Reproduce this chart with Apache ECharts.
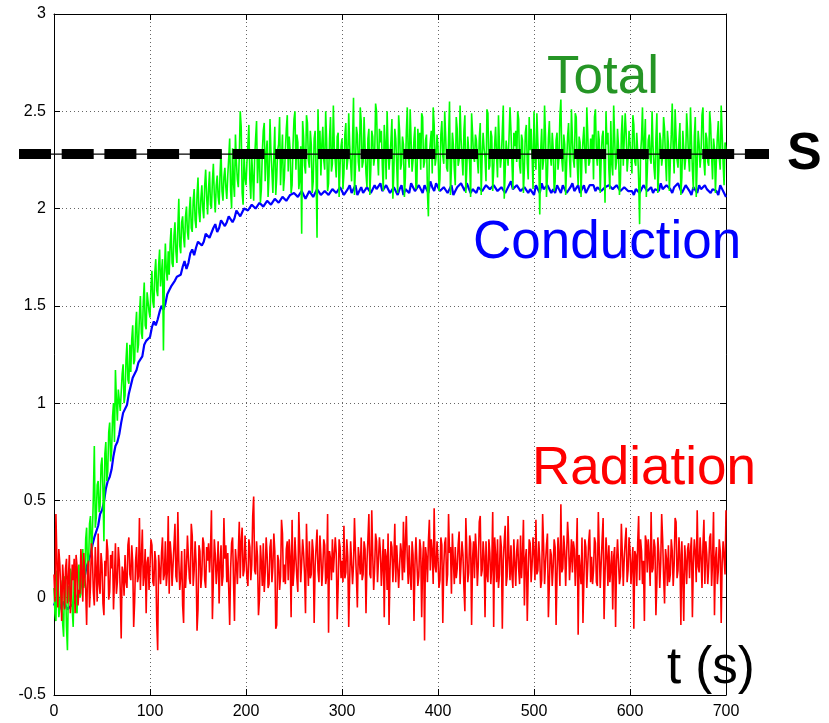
<!DOCTYPE html>
<html><head><meta charset="utf-8">
<script src="https://cdn.jsdelivr.net/npm/echarts/dist/echarts.min.js"></script>
<style>html,body{margin:0;padding:0;background:#fff}#c{width:829px;height:723px}</style>
</head><body><div id="c"></div>
<script>
// sampling interval (s) of the traces; "B" arrays are the samples half a step later
const sampleStep = 2;
const conductionStep = 4;
const xRange = [0, 700];
const xInterval = 100;
const yRange = [-0.5, 3];
const yInterval = 0.5;
const sLevel = 2.28;
const labels = { total: 'Total', conduction: 'Conduction', radiation: 'Radiation', time: 't (s)', s: 'S' };

// Conduction (blue): t = 0, 4, 8, ...
const conduction = [
-0.04, 0.01, -0.06, -0.02, -0.07, -0.03, -0.01, 0.06, 0.11, 0.19,
0.27, 0.32, 0.43, 0.49, 0.6, 0.66, 0.78, 0.84, 0.95, 0.99,
1.09, 1.12, 1.21, 1.24, 1.32, 1.34, 1.42, 1.43, 1.5, 1.51,
1.58, 1.59, 1.65, 1.66, 1.73, 1.72, 1.79, 1.8, 1.84, 1.83,
1.88, 1.86, 1.92, 1.9, 1.95, 1.93, 1.97, 1.95, 2.0, 1.97,
2.01, 1.98, 2.03, 2.0, 2.04, 2.01, 2.05, 2.02, 2.06, 2.03,
2.07, 2.03, 2.06, 2.09, 2.05, 2.08, 2.06, 2.1, 2.07, 2.09,
2.06, 2.1, 2.08, 2.11, 2.07, 2.1, 2.08, 2.12, 2.09, 2.07,
2.11, 2.08, 2.12, 2.09, 2.1, 2.13, 2.08, 2.11, 2.09, 2.12,
2.1, 2.07, 2.11, 2.13, 2.09, 2.12, 2.08, 2.1, 2.14, 2.09,
2.11, 2.08, 2.12, 2.1, 2.07, 2.11, 2.13, 2.09, 2.12, 2.1,
2.08, 2.12, 2.1, 2.13, 2.09, 2.11, 2.08, 2.12, 2.1, 2.14,
2.09, 2.11, 2.08, 2.12, 2.1, 2.07, 2.11, 2.13, 2.09, 2.11,
2.1, 2.12, 2.08, 2.11, 2.09, 2.13, 2.1, 2.08, 2.12, 2.1,
2.11, 2.09, 2.12, 2.08, 2.1, 2.13, 2.09, 2.11, 2.08, 2.12,
2.1, 2.07, 2.11, 2.09, 2.12, 2.1, 2.08, 2.11, 2.13, 2.09,
2.11, 2.08, 2.1, 2.12, 2.09, 2.11, 2.07, 2.1, 2.12, 2.09,
2.1, 2.08, 2.11, 2.07, 2.1, 2.06
];
// Conduction (blue): t = 2, 6, 10, ...
const conductionB = [
-0.01, -0.03, -0.02, -0.06, -0.04, -0.02, 0.03, 0.08, 0.16, 0.22,
0.31, 0.37, 0.45, 0.56, 0.62, 0.73, 0.8, 0.9, 0.96, 1.05,
1.13, 1.17, 1.2, 1.3, 1.31, 1.39, 1.4, 1.47, 1.48, 1.56,
1.6, 1.63, 1.64, 1.7, 1.69, 1.77, 1.76, 1.83, 1.81, 1.87,
1.85, 1.9, 1.88, 1.94, 1.91, 1.96, 1.93, 1.99, 1.96, 2.0,
1.99, 2.02, 2.0, 2.03, 2.01, 2.04, 2.02, 2.05, 2.03, 2.06,
2.04, 2.07, 2.08, 2.06, 2.09, 2.05, 2.09, 2.06, 2.1, 2.07,
2.09, 2.07, 2.1, 2.08, 2.11, 2.07, 2.1, 2.08, 2.12, 2.09,
2.08, 2.11, 2.08, 2.12, 2.11, 2.09, 2.12, 2.08, 2.11, 2.07,
2.12, 2.1, 2.08, 2.11, 2.1, 2.1, 2.12, 2.08, 2.11, 2.13,
2.09, 2.11, 2.08, 2.12, 2.09, 2.1, 2.11, 2.13, 2.08, 2.11,
2.11, 2.09, 2.12, 2.1, 2.12, 2.09, 2.11, 2.08, 2.12, 2.1,
2.12, 2.09, 2.11, 2.08, 2.09, 2.12, 2.08, 2.1, 2.12, 2.08,
2.08, 2.1, 2.12, 2.08, 2.11, 2.09, 2.12, 2.1, 2.08, 2.12,
2.12, 2.11, 2.09, 2.11, 2.12, 2.1, 2.12, 2.09, 2.11, 2.09,
2.09, 2.1, 2.08, 2.12, 2.09, 2.11, 2.1, 2.09, 2.1, 2.12,
2.1, 2.11, 2.13, 2.08, 2.12, 2.09, 2.11, 2.08, 2.1, 2.12,
2.11, 2.1, 2.09, 2.12, 2.08
];

// Total (green): t = 0, 2, 4, ...
const total = [
0.05, -0.12, 0.1, -0.06, 0.02, -0.2, 0.08, -0.27, -0.02, 0.12,
-0.15, 0.09, -0.08, 0.17, 0.02, 0.25, 0.08, 0.36, 0.17, 0.42,
0.33, 0.78, 0.41, 0.6, 0.47, 0.72, 0.29, 0.8, 0.65, 0.9,
0.75, 1.0, 1.17, 0.91, 1.08, 0.95, 1.2, 1.04, 1.31, 1.1,
1.16, 1.4, 1.22, 1.47, 1.3, 1.55, 1.33, 1.62, 1.38, 1.58,
1.44, 1.68, 1.49, 1.74, 1.55, 1.79, 1.61, 1.27, 1.82, 1.63,
1.66, 1.9, 1.7, 1.93, 1.72, 2.05, 1.77, 1.96, 1.8, 2.01,
1.84, 2.06, 1.88, 2.1, 1.9, 2.16, 1.93, 2.12, 1.95, 2.2,
1.97, 2.19, 2.0, 2.23, 1.98, 2.17, 2.02, 2.3, 2.04, 2.21,
2.05, 2.26, 2.09, 2.31, 2.06, 2.24, 2.11, 2.5, 2.08, 2.28,
2.12, 2.33, 2.15, 2.27, 2.04, 2.36, 2.13, 2.3, 2.1, 2.4,
2.14, 2.35, 2.17, 2.29, 2.08, 2.42, 2.16, 2.33, 2.12, 2.38,
2.16, 2.41, 2.19, 2.3, 2.12, 2.46, 2.2, 2.34, 2.15, 1.87,
2.37, 2.18, 2.44, 2.21, 2.33, 2.14, 2.4, 1.85, 2.29, 2.17,
2.42, 2.2, 2.35, 2.13, 2.47, 2.23, 2.31, 2.16, 2.39, 2.22,
2.36, 2.18, 2.44, 2.25, 2.33, 2.14, 2.57, 2.21, 2.38, 2.19,
2.45, 2.24, 2.32, 2.11, 2.41, 2.2, 2.37, 2.26, 2.5, 2.17,
2.34, 2.22, 2.43, 2.15, 2.31, 2.27, 2.46, 2.19, 2.36, 2.08,
2.4, 2.23, 2.33, 2.16, 2.52, 2.21, 2.35, 2.25, 2.42, 2.13,
2.3, 2.2, 2.47, 2.24, 2.38, 1.96, 2.34, 2.18, 2.43, 2.26,
2.32, 2.15, 2.45, 2.23, 2.37, 2.19, 2.55, 2.22, 2.33, 2.12,
2.41, 2.25, 2.36, 2.17, 2.48, 2.21, 2.3, 2.06, 2.39, 2.24,
2.35, 2.18, 2.44, 2.27, 2.31, 2.14, 2.49, 2.22, 2.37, 2.2,
2.42, 2.16, 2.33, 2.26, 2.53, 2.19, 2.36, 2.23, 2.4, 2.1,
2.32, 2.24, 2.46, 2.18, 2.35, 2.21, 2.43, 2.15, 2.3, 2.27,
2.5, 2.2, 2.34, 1.97, 2.41, 2.25, 2.37, 2.17, 2.45, 2.22,
2.31, 2.14, 2.39, 2.26, 2.56, 2.19, 2.33, 2.23, 2.44, 2.16,
2.36, 2.21, 2.47, 2.12, 2.34, 2.27, 2.42, 2.18, 2.38, 2.24,
2.3, 2.15, 2.51, 2.22, 2.35, 2.26, 2.4, 2.03, 2.33, 2.2,
2.45, 2.17, 2.37, 2.24, 2.32, 2.13, 2.48, 2.21, 2.39, 2.26,
2.34, 2.18, 2.43, 2.22, 2.3, 1.92, 2.36, 2.25, 2.46, 2.19,
2.38, 2.23, 2.32, 2.15, 2.49, 2.2, 2.35, 2.27, 2.41, 2.14,
2.33, 2.24, 2.54, 2.18, 2.37, 2.21, 2.44, 2.16, 2.31, 2.26,
2.4, 2.19, 2.35, 2.1, 2.47, 2.23, 2.33, 2.28, 2.52, 2.17,
2.36, 2.22, 2.43, 2.15, 2.31, 2.25, 2.45, 2.2, 2.38, 2.12,
2.3
];
// Total (green): t = 1, 3, 5, ...
const totalB = [
-0.08, 0.14, -0.1, 0.09, -0.13, 0.11, -0.15, 0.06, 0.15, -0.06,
0.12, -0.05, 0.14, 0.0, 0.2, 0.05, 0.3, 0.12, 0.38, 0.22,
0.52, 0.36, 0.58, 0.44, 0.68, 0.55, 0.74, 0.6, 0.85, 0.7,
0.93, 0.8, 1.02, 1.07, 0.96, 1.15, 1.0, 1.22, 1.12, 1.3,
1.33, 1.2, 1.39, 1.26, 1.45, 1.36, 1.52, 1.4, 1.57, 1.47,
1.6, 1.52, 1.67, 1.58, 1.71, 1.6, 1.74, 1.66, 1.68, 1.78,
1.82, 1.72, 1.86, 1.78, 1.9, 1.81, 1.93, 1.85, 1.96, 1.88,
1.99, 1.9, 2.04, 1.94, 2.07, 1.98, 2.05, 2.0, 2.12, 2.06,
2.1, 2.02, 2.14, 2.07, 2.12, 2.06, 2.18, 2.09, 2.16, 2.11,
2.17, 2.36, 2.0, 2.13, 2.38, 2.15, 2.27, 2.42, 2.02, 2.16,
2.24, 2.43, 2.05, 2.16, 2.26, 2.45, 2.25, 2.03, 2.29, 2.44,
2.28, 2.06, 2.46, 2.19, 2.27, 2.07, 2.3, 2.47, 2.26, 2.09,
2.3, 2.48, 2.37, 2.08, 2.33, 2.5, 2.38, 2.1, 2.32, 2.45,
2.22, 2.48, 2.25, 2.4, 2.08, 2.36, 2.19, 2.51, 2.4, 2.33,
2.25, 2.5, 2.09, 2.36, 2.19, 2.53, 2.24, 2.37, 2.06, 2.32,
2.1, 2.38, 2.2, 2.49, 2.23, 2.35, 2.07, 2.42, 2.24, 2.52,
2.21, 2.47, 2.18, 2.36, 2.07, 2.4, 2.22, 2.54, 2.28, 2.41,
2.4, 2.09, 2.33, 2.5, 2.2, 2.35, 2.05, 2.41, 2.22, 2.48,
2.2, 2.37, 2.06, 2.39, 2.27, 2.51, 2.19, 2.36, 2.1, 2.41,
2.39, 2.49, 2.21, 2.35, 2.08, 2.28, 2.4, 2.52, 2.22, 2.38,
2.09, 2.38, 2.27, 2.5, 2.21, 2.36, 2.07, 2.39, 2.2, 2.47,
2.22, 2.53, 2.26, 2.4, 2.08, 2.37, 2.23, 2.49, 2.27, 2.38,
2.25, 2.36, 2.07, 2.39, 2.26, 2.51, 2.2, 2.4, 2.09, 2.33,
2.27, 2.48, 2.21, 2.4, 2.05, 2.35, 2.22, 2.52, 2.24, 2.39,
2.4, 2.5, 2.22, 2.38, 2.08, 2.39, 2.23, 2.47, 2.41, 2.1,
2.26, 2.49, 2.23, 2.3, 2.2, 2.53, 2.06, 2.36, 2.27, 2.39,
2.09, 2.35, 2.2, 2.48, 2.25, 2.38, 2.07, 2.37, 2.26, 2.51,
2.25, 2.49, 2.23, 2.37, 2.06, 2.35, 2.26, 2.52, 2.22, 2.36,
2.38, 2.47, 2.28, 2.4, 2.08, 2.37, 2.24, 2.5, 2.39, 2.1,
2.23, 2.53, 2.2, 2.41, 2.07, 2.38, 2.22, 2.49, 2.19, 2.4,
2.27, 2.48, 2.24, 2.39, 2.15, 2.28, 2.52, 2.33, 2.06, 2.35,
2.26, 2.5, 2.21, 2.36, 2.08, 2.39, 2.22, 2.47, 2.25, 2.4,
2.09, 2.38, 2.3, 2.51, 2.25, 2.35, 2.07, 2.4, 2.2, 2.49,
2.26, 2.52, 2.2, 2.37, 2.06, 2.4, 2.21, 2.48, 2.24, 2.39,
2.24, 2.5, 2.27, 2.36, 2.08, 2.37, 2.26, 2.53, 2.23, 2.34
];

// Radiation (red): t = 0, 2, 4, ...
const radiation = [
0.12, 0.43, -0.05, 0.18, -0.12, 0.08, 0.15, -0.03, 0.22, 0.01,
0.09, -0.08, 0.16, 0.04, 0.25, -0.02, 0.12, -0.14, 0.19, 0.06,
0.21, -0.04, 0.14, 0.33, 0.02, 0.17, -0.09, 0.11, 0.24, 0.03,
0.15, -0.06, 0.28, 0.08, 0.19, -0.21, 0.13, 0.22, 0.05, 0.31,
0.09, 0.18, -0.02, 0.26, 0.11, 0.04, 0.35, 0.12, -0.08, 0.21,
0.16, 0.27, 0.06, 0.19, -0.27, 0.14, 0.23, 0.09, 0.29, 0.13,
0.02, 0.22, 0.17, 0.38, 0.08, 0.19, 0.11, -0.04, 0.25, 0.15,
0.21, 0.07, 0.32, 0.14, 0.18, -0.06, 0.24, 0.12, 0.28, 0.05,
0.19, 0.13, 0.45, 0.09, 0.22, 0.16, -0.03, 0.27, 0.11, 0.2,
0.08, 0.24, 0.15, 0.31, -0.12, 0.18, 0.23, 0.1, 0.36, 0.14,
0.2, 0.06, 0.26, 0.17, 0.52, 0.12, 0.21, -0.01, 0.18, 0.28,
0.13, 0.22, 0.07, 0.3, 0.16, 0.24, -0.14, 0.19, 0.11, 0.33,
0.17, 0.25, 0.09, 0.21, 0.4, 0.14, 0.2, 0.03, 0.27, 0.18,
0.23, -0.08, 0.19, 0.29, 0.12, 0.24, 0.16, 0.35, 0.08, 0.22,
0.15, 0.27, 0.11, -0.18, 0.2, 0.3, 0.14, 0.23, 0.06, 0.26,
0.19, 0.37, 0.13, 0.21, 0.09, 0.28, 0.17, 0.24, -0.05, 0.2,
0.31, 0.12, 0.25, 0.18, 0.43, 0.1, 0.22, 0.15, 0.29, 0.07,
0.24, 0.17, -0.1, 0.21, 0.33, 0.14, 0.26, 0.19, 0.08, 0.28,
0.16, 0.23, 0.39, 0.12, 0.2, 0.27, 0.04, 0.22, 0.17, 0.3,
0.11, 0.25, 0.18, -0.22, 0.21, 0.29, 0.14, 0.24, 0.46, 0.13,
0.2, 0.09, 0.27, 0.16, 0.31, 0.12, 0.23, 0.02, 0.19, 0.26,
0.15, 0.34, 0.18, 0.22, -0.07, 0.25, 0.13, 0.28, 0.2, 0.1,
0.24, 0.17, 0.42, 0.14, 0.21, 0.29, 0.08, 0.23, 0.16, -0.15,
0.22, 0.3, 0.12, 0.26, 0.19, 0.37, 0.11, 0.2, 0.27, 0.05,
0.18, 0.24, 0.15, 0.32, 0.21, -0.04, 0.25, 0.13, 0.28, 0.17,
0.23, 0.4, 0.14, 0.2, 0.09, 0.27, 0.18, 0.33, -0.11, 0.22,
0.16, 0.26, 0.12, 0.21, 0.48, 0.15, 0.24, 0.07, 0.29, 0.19,
0.13, 0.25, 0.2, -0.19, 0.23, 0.31, 0.1, 0.26, 0.17, 0.35,
0.21, 0.14, 0.28, 0.06, 0.24, 0.18, 0.41, 0.12, 0.22, 0.27,
0.15, -0.06, 0.26, 0.19, 0.3, 0.11, 0.23, 0.2, 0.36, 0.14,
0.25, 0.17, -0.16, 0.22, 0.28, 0.09, 0.24, 0.19, 0.32, 0.13,
0.21, 0.44, 0.15, 0.26, 0.08, 0.23, 0.18, 0.3, -0.03, 0.2,
0.27, 0.12, 0.24, 0.17, 0.39, 0.14, 0.22, 0.29, -0.12, 0.19,
0.25, 0.1, 0.31, 0.18, 0.23, 0.45, 0.13, 0.21, 0.27, 0.07,
0.22, 0.16, 0.33, 0.19, -0.09, 0.26, 0.14, 0.24, 0.18, 0.3,
0.45
];
// Radiation (red): t = 1, 3, 5, ...
const radiationB = [
-0.02, 0.2, 0.25, 0.05, 0.17, -0.06, 0.2, 0.1, -0.08, 0.17,
0.2, 0.22, -0.04, 0.02, 0.14, 0.23, 0.04, 0.16, -0.05, 0.28,
0.03, 0.26, -0.02, 0.07, 0.23, -0.03, 0.19, 0.3, -0.01, 0.22,
0.24, 0.1, 0.02, 0.26, 0.04, 0.16, 0.01, 0.08, 0.27, 0.12,
0.27, -0.15, 0.19, 0.08, 0.41, 0.2, 0.06, 0.25, 0.18, 0.04,
0.3, 0.08, 0.24, -0.12, 0.22, 0.07, 0.31, 0.12, 0.06, 0.42,
0.29, 0.06, 0.27, 0.11, 0.44, 0.04, 0.24, -0.13, 0.05, 0.32,
0.1, 0.38, 0.06, 0.29, -0.17, 0.27, 0.05, 0.31, 0.09, 0.26,
0.28, 0.24, -0.11, 0.3, 0.07, 0.29, 0.18, 0.06, 0.41, 0.27,
0.23, -0.14, 0.28, 0.09, 0.25, 0.07, 0.39, 0.29, 0.11, 0.32,
0.1, 0.3, 0.09, 0.42, 0.14, 0.29, -0.09, 0.27, 0.06, 0.03,
0.31, 0.05, 0.26, 0.08, 0.33, -0.16, 0.22, 0.04, 0.4, 0.08,
0.07, 0.29, 0.3, -0.1, 0.06, 0.31, 0.1, 0.44, 0.08, 0.3,
0.12, 0.38, 0.06, 0.1, 0.3, -0.13, 0.26, 0.14, 0.32, 0.06,
0.3, 0.07, 0.43, 0.24, 0.09, 0.13, 0.31, -0.11, 0.3, 0.1,
0.08, 0.1, 0.3, -0.15, 0.29, 0.07, 0.41, 0.11, 0.26, 0.12,
0.09, 0.29, -0.08, 0.3, 0.12, 0.45, 0.04, 0.33, 0.08, 0.31,
0.06, 0.3, 0.25, 0.04, -0.14, 0.29, 0.08, 0.38, 0.27, 0.05,
0.28, 0.09, 0.13, 0.42, 0.07, 0.12, 0.29, -0.12, 0.31, 0.06,
0.3, -0.1, 0.29, 0.26, 0.08, 0.4, 0.3, 0.07, 0.16, 0.29,
0.05, 0.31, -0.13, 0.28, 0.06, 0.43, 0.26, 0.33, 0.07, 0.1,
0.27, 0.07, 0.29, 0.05, 0.41, 0.08, 0.32, -0.14, 0.29, 0.33,
0.06, 0.39, 0.11, 0.29, -0.1, 0.12, 0.3, 0.07, 0.44, 0.31,
0.08, 0.05, 0.32, -0.16, 0.29, 0.06, 0.42, 0.09, 0.12, 0.3,
0.06, 0.3, 0.07, 0.1, 0.4, 0.2, -0.12, 0.3, 0.08, 0.31,
0.09, 0.12, 0.29, 0.05, 0.43, 0.07, 0.27, -0.1, 0.25, 0.06,
0.3, -0.14, 0.31, 0.06, 0.13, 0.32, 0.06, 0.39, 0.09, 0.3,
0.29, 0.06, 0.41, 0.22, 0.07, -0.13, 0.3, 0.05, 0.29, 0.08,
0.07, 0.31, 0.08, 0.44, 0.05, 0.3, -0.11, 0.31, 0.06, 0.08,
0.24, 0.21, -0.15, 0.3, 0.07, 0.38, 0.06, 0.29, 0.08, 0.31,
0.07, 0.26, 0.24, 0.06, 0.42, 0.3, 0.07, -0.12, 0.29, 0.3,
0.06, 0.13, 0.3, -0.09, 0.31, 0.05, 0.43, 0.11, 0.25, 0.06,
0.08, 0.3, 0.06, 0.41, 0.1, 0.31, -0.14, 0.11, 0.27, 0.07,
0.28, 0.24, -0.1, 0.3, 0.08, 0.16, 0.31, 0.05, 0.4, 0.29,
0.07, 0.31, 0.06, 0.44, 0.2, 0.07, 0.3, -0.13, 0.29, 0.12
];

const FONT = '"Liberation Sans", Arial, Helvetica, sans-serif';
// interleave samples at t = k*step (a) and t = k*step + step/2 (b)
function merge(a, b, step) {
  const out = [];
  for (let i = 0; i < a.length; i++) {
    out.push([i * step, a[i]]);
    if (i < b.length) out.push([i * step + step / 2, b[i]]);
  }
  return out;
}

const chart = echarts.init(document.getElementById('c'), null, { renderer: 'canvas' });

const gridLine = { show: true, lineStyle: { color: '#666', width: 1, type: [1, 3] } };
function xAx(pos, main) {
  return {
    type: 'value', position: pos, min: xRange[0], max: xRange[1], interval: xInterval,
    axisLine: { show: true, onZero: false, lineStyle: { color: '#000', width: 1 } },
    axisTick: { show: true, inside: true, length: 6, lineStyle: { color: '#000' } },
    axisLabel: { show: main, color: '#000', fontSize: 16, fontFamily: FONT, margin: 9 },
    splitLine: main ? gridLine : { show: false }
  };
}
function yAx(pos, main) {
  return {
    type: 'value', position: pos, min: yRange[0], max: yRange[1], interval: yInterval,
    axisLine: { show: true, onZero: false, lineStyle: { color: '#000', width: 1 } },
    axisTick: { show: true, inside: true, length: 6, lineStyle: { color: '#000' } },
    axisLabel: { show: main, color: '#000', fontSize: 16, fontFamily: FONT, margin: 8 },
    splitLine: main ? gridLine : { show: false }
  };
}

chart.setOption({
  animation: false,
  grid: { left: 54, right: 103, top: 14, bottom: 28, containLabel: false },
  xAxis: [xAx('bottom', true), xAx('top', false)],
  yAxis: [yAx('left', true), yAx('right', false)],
  series: [
    { name: 'Conduction', type: 'line', data: merge(conduction, conductionB, conductionStep), showSymbol: false, symbol: 'none',
      lineStyle: { color: '#0000ff', width: 2.2 } },
    { name: 'Total', type: 'line', data: merge(total, totalB, sampleStep), showSymbol: false, symbol: 'none',
      lineStyle: { color: '#00ff00', width: 1.6 } },
    { name: 'Radiation', type: 'line', data: merge(radiation, radiationB, sampleStep), showSymbol: false, symbol: 'none',
      lineStyle: { color: '#ff0000', width: 1.6 } }
  ]
});

const sy = chart.convertToPixel({ yAxisIndex: 0 }, sLevel);
function txt(text, x, y, size, color, weight) {
  return {
    type: 'text', z: 100,
    style: { text: text, x: x, y: y, fill: color, font: (weight || 'normal') + ' ' + size + 'px ' + FONT,
      textAlign: 'left', textVerticalAlign: 'middle', verticalAlign: 'middle' }
  };
}
chart.setOption({
  graphic: [
    { type: 'line', z: 90, shape: { x1: 19, y1: sy, x2: 769, y2: sy }, style: { stroke: '#000', lineWidth: 1.2 } },
    { type: 'line', z: 91, shape: { x1: 19, y1: sy, x2: 769, y2: sy }, style: { stroke: '#000', lineWidth: 10, lineDash: [32, 10.7] } },
    txt(labels.total, 547, 78, 53, '#259525'),
    txt(labels.conduction, 473, 243, 53, '#0000ff'),
    txt(labels.radiation, 532, 469, 53, '#ff0000'),
    txt(labels.time, 667, 669, 51, '#000'),
    txt(labels.s, 787, 155, 52, '#000', 'bold')
  ]
});
</script>
</body></html>
